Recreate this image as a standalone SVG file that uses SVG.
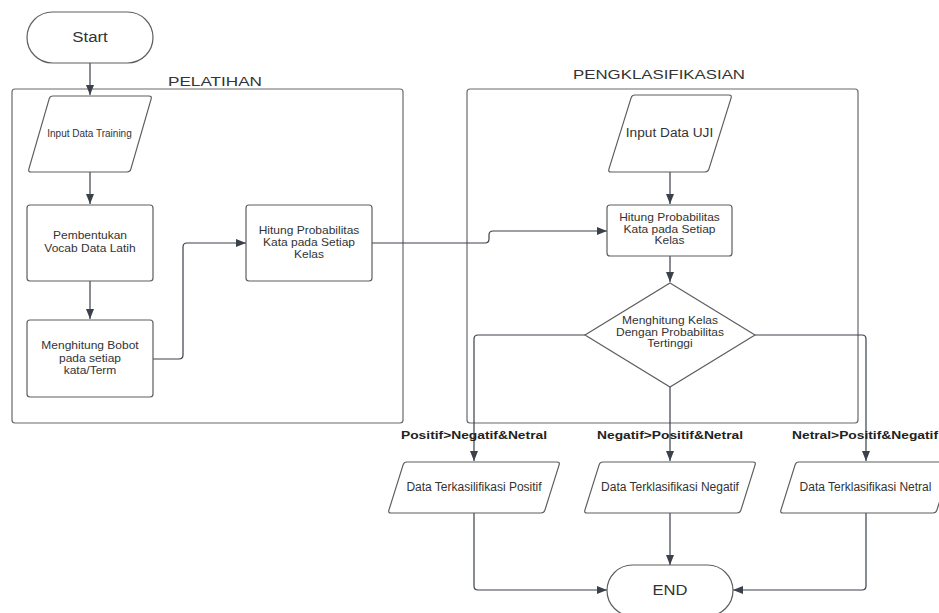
<svg xmlns="http://www.w3.org/2000/svg" width="939" height="613" viewBox="0 0 939 613">
<style>
  .shape{fill:#ffffff;stroke:#5e5e5e;stroke-width:1.2}
  .cont{fill:none;stroke:#6a6a6a;stroke-width:1.2}
  .conn{fill:none;stroke:#3a414a;stroke-width:1.2}
  .t{font-family:"Liberation Sans",Arial,sans-serif;fill:#333333;text-anchor:middle}
  .t10{font-size:10px}
  .t12{font-size:12px}
  .tn{font-size:10.5px}
  .td{font-size:10px}
  .lbl{font-family:"Liberation Sans",Arial,sans-serif;font-weight:bold;font-size:11.5px;fill:#222222;text-anchor:middle}
  .title{font-family:"Liberation Sans",Arial,sans-serif;font-size:13px;fill:#333333;text-anchor:middle}
</style>
<defs>
  <marker id="arr" markerUnits="userSpaceOnUse" markerWidth="10" markerHeight="8" refX="10" refY="4" orient="auto">
    <path d="M0,0 L10,4 L0,8 Z" fill="#3a414a"/>
  </marker>
  <path id="outPara" d="M407,462 H557 Q560,462 559.1,464.86 L544.9,510.14 Q544,513 541,513 H391 Q388,513 388.9,510.14 L403.1,464.86 Q404,462 407,462 Z"/>
</defs>

<g id="pelatihan">
  <rect class="cont" x="12" y="89" width="391" height="334" rx="3"/>
  <text class="title" x="215" y="86" textLength="94" lengthAdjust="spacingAndGlyphs">PELATIHAN</text>
</g>
<g id="pengklasifikasian">
  <rect class="cont" x="467" y="89" width="391" height="334" rx="3"/>
  <text class="title" x="659" y="79" textLength="172" lengthAdjust="spacingAndGlyphs">PENGKLASIFIKASIAN</text>
</g>

<g id="connectors">
  <path class="conn" d="M90,63 V95" marker-end="url(#arr)"/>
  <path class="conn" d="M90,172 V204" marker-end="url(#arr)"/>
  <path class="conn" d="M90,281 V319" marker-end="url(#arr)"/>
  <path class="conn" d="M153,359 H179 Q183,359 183,355 V247 Q183,243 187,243 H246" marker-end="url(#arr)"/>
  <path class="conn" d="M372,243 H485 Q489,243 489,239 V235 Q489,231 493,231 H607" marker-end="url(#arr)"/>
  <path class="conn" d="M670,172 V204" marker-end="url(#arr)"/>
  <path class="conn" d="M670,256 V282" marker-end="url(#arr)"/>
  <path class="conn" d="M585,335 H478 Q474,335 474,339 V461" marker-end="url(#arr)"/>
  <path class="conn" d="M670,387 V461" marker-end="url(#arr)"/>
  <path class="conn" d="M755,335 H862 Q866,335 866,339 V461" marker-end="url(#arr)"/>
  <path class="conn" d="M474,513 V586 Q474,590 478,590 H607" marker-end="url(#arr)"/>
  <path class="conn" d="M670,513 V565" marker-end="url(#arr)"/>
  <path class="conn" d="M866,513 V586 Q866,590 862,590 H733" marker-end="url(#arr)"/>
  <text class="lbl" x="474" y="438.5" textLength="146" lengthAdjust="spacingAndGlyphs">Positif&gt;Negatif&amp;Netral</text>
  <text class="lbl" x="670" y="438.5" textLength="146" lengthAdjust="spacingAndGlyphs">Negatif&gt;Positif&amp;Netral</text>
  <text class="lbl" x="865" y="438.5" textLength="146" lengthAdjust="spacingAndGlyphs">Netral&gt;Positif&amp;Negatif</text>
</g>

<g id="start">
  <rect class="shape" x="27" y="12" width="126" height="51" rx="25.5"/>
  <text class="t" x="90" y="41.5" font-size="14" textLength="35.5" lengthAdjust="spacingAndGlyphs">Start</text>
</g>

<g id="input-training">
  <path class="shape" d="M53,96 H149 Q152,96 151.17,98.88 L130.83,169.12 Q130,172 127,172 H31 Q28,172 28.83,169.12 L49.17,98.88 Q50,96 53,96 Z"/>
  <text class="t t10" x="89.5" y="137">Input Data Training</text>
</g>

<g id="vocab">
  <rect class="shape" x="27" y="205" width="126" height="76" rx="3"/>
  <g transform="translate(90 0) scale(1.143 1)">
    <text class="t tn" x="0" y="239.5">Pembentukan</text>
    <text class="t tn" x="0" y="252.5">Vocab Data Latih</text>
  </g>
</g>

<g id="bobot">
  <rect class="shape" x="27" y="320" width="126" height="77" rx="3"/>
  <g transform="translate(90 0) scale(1.143 1)">
    <text class="t tn" x="0" y="349.5">Menghitung Bobot</text>
    <text class="t tn" x="0" y="361.8">pada setiap</text>
    <text class="t tn" x="0" y="374">kata/Term</text>
  </g>
</g>

<g id="prob-latih">
  <rect class="shape" x="246" y="205" width="126" height="76" rx="3"/>
  <g transform="translate(309 0) scale(1.143 1)">
    <text class="t tn" x="0" y="234">Hitung Probabilitas</text>
    <text class="t tn" x="0" y="246">Kata pada Setiap</text>
    <text class="t tn" x="0" y="258">Kelas</text>
  </g>
</g>

<g id="input-uji">
  <path class="shape" d="M635,95 H729 Q732,95 731.11,97.86 L708.89,169.14 Q708,172 705,172 H611 Q608,172 608.89,169.14 L631.11,97.86 Q632,95 635,95 Z"/>
  <text class="t" x="669.5" y="137" font-size="12.5" textLength="87.5" lengthAdjust="spacingAndGlyphs">Input Data UJI</text>
</g>

<g id="prob-uji">
  <rect class="shape" x="607" y="205" width="125" height="51" rx="3"/>
  <g transform="translate(669.5 0) scale(1.143 1)">
    <text class="t tn" x="0" y="220.7">Hitung Probabilitas</text>
    <text class="t tn" x="0" y="232.7">Kata pada Setiap</text>
    <text class="t tn" x="0" y="244.5">Kelas</text>
  </g>
</g>

<g id="decision">
  <polygon class="shape" points="670,283 755,335 670,387 585,335"/>
  <g transform="translate(670 0) scale(1.2 1)">
    <text class="t td" x="0" y="324.3">Menghitung Kelas</text>
    <text class="t td" x="0" y="335.8">Dengan Probabilitas</text>
    <text class="t td" x="0" y="347.2">Tertinggi</text>
  </g>
</g>

<g id="out-positif">
  <use href="#outPara" class="shape"/>
  <text class="t t12" x="474" y="490.5">Data Terkasilifikasi Positif</text>
</g>

<g id="out-negatif">
  <use href="#outPara" class="shape" transform="translate(196 0)"/>
  <text class="t t12" x="670" y="490.5">Data Terklasifikasi Negatif</text>
</g>

<g id="out-netral">
  <use href="#outPara" class="shape" transform="translate(392 0)"/>
  <text class="t t12" x="865.5" y="490.5">Data Terklasifikasi Netral</text>
</g>

<g id="end">
  <rect class="shape" x="607" y="565" width="126" height="51" rx="25.5"/>
  <text class="t" x="670" y="594.5" font-size="15" textLength="35" lengthAdjust="spacingAndGlyphs">END</text>
</g>
</svg>
